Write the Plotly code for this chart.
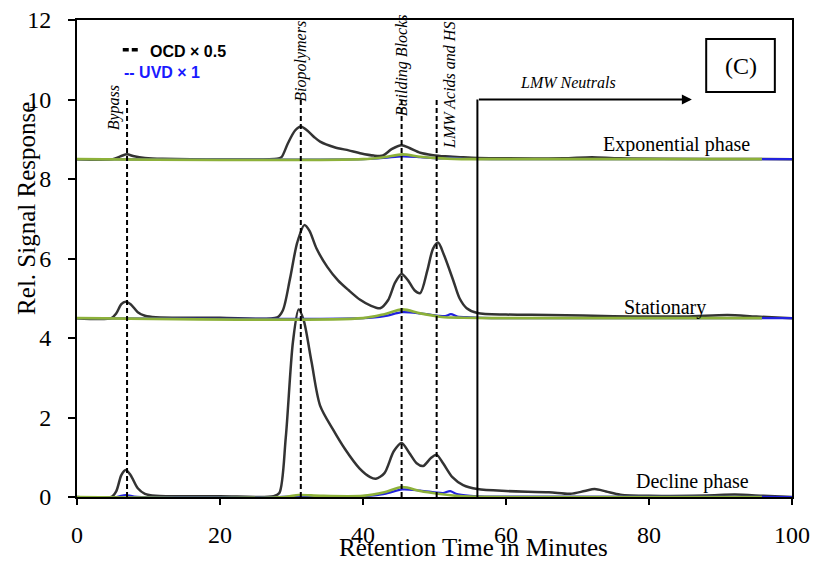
import plotly.graph_objects as go

# ---------------- data ----------------
# OCD signals (relative to each phase's baseline), x in minutes
ocd_decline_x = [0, 4.8, 5.5, 6.2, 6.8, 7.5, 8.5, 9.5, 11, 20, 27.5, 28.3, 29.2, 30.2, 31.0, 31.7, 32.8, 34.0, 35.8, 37.5, 39.5, 41.0, 41.8, 43.0, 44.3, 45.4, 46.5, 47.5, 48.4, 49.5, 50.3, 51.2, 52.5, 54.0, 56, 60, 66, 69, 71, 72.4, 74, 76, 80, 88, 92, 96, 100]
ocd_decline_y = [0, 0, 0.15, 0.55, 0.68, 0.55, 0.22, 0.08, 0.03, 0.02, 0.02, 0.1, 1.5, 3.9, 4.72, 4.45, 3.4, 2.3, 1.7, 1.2, 0.72, 0.5, 0.46, 0.6, 1.15, 1.36, 1.1, 0.85, 0.78, 0.98, 1.06, 0.85, 0.5, 0.3, 0.2, 0.15, 0.12, 0.08, 0.15, 0.2, 0.14, 0.06, 0.03, 0.04, 0.06, 0.03, 0.0]

ocd_station_x = [0, 4.8, 5.5, 6.2, 6.8, 7.5, 8.5, 9.5, 11, 20, 28, 28.8, 29.8, 30.8, 31.8, 32.5, 33.5, 35.0, 36.5, 38, 39.6, 41, 42.4, 43.5, 44.5, 45.4, 46.3, 47.2, 48.0, 49.0, 49.8, 50.5, 51.3, 52.6, 53.5, 54.5, 56, 60, 66, 75, 85, 91, 95, 100]
ocd_station_y = [0, 0, 0.12, 0.35, 0.41, 0.35, 0.15, 0.06, 0.02, 0.01, 0.02, 0.2, 1.0, 1.9, 2.34, 2.2, 1.75, 1.29, 0.95, 0.7, 0.46, 0.32, 0.25, 0.45, 0.9, 1.11, 0.95, 0.7, 0.63, 1.2, 1.75, 1.9, 1.6, 0.96, 0.5, 0.25, 0.13, 0.09, 0.08, 0.05, 0.04, 0.08, 0.04, 0.0]

ocd_expo_x = [0, 5, 6.2, 7.0, 8.0, 9.5, 12, 28, 28.6, 29.5, 30.5, 31.3, 32.2, 33.2, 34.0, 36, 38, 39.6, 41.5, 42.8, 44, 45.4, 46.5, 48, 49.8, 51.5, 53.6, 56, 60, 68, 72, 76, 100]
ocd_expo_y = [0, 0, 0.08, 0.12, 0.07, 0.03, 0.01, 0.01, 0.05, 0.4, 0.72, 0.82, 0.72, 0.55, 0.44, 0.3, 0.22, 0.15, 0.09, 0.09, 0.25, 0.35, 0.28, 0.16, 0.1, 0.07, 0.05, 0.03, 0.02, 0.02, 0.05, 0.02, 0.0]

# UVD signals
uvd_decline_x = [0, 5.5, 6.8, 8, 28, 31, 35, 40, 43, 45.5, 48, 50, 51.2, 52.2, 53, 55, 58, 100]
uvd_decline_y = [0, 0, 0.05, 0.01, 0.0, 0.02, 0.01, 0.02, 0.08, 0.19, 0.16, 0.12, 0.1, 0.15, 0.08, 0.03, 0.01, 0.0]
uvd_station_x = [0, 40, 43, 45.5, 48, 50.5, 51.5, 52.3, 53.2, 55, 58, 100]
uvd_station_y = [0, 0.0, 0.05, 0.15, 0.12, 0.06, 0.05, 0.1, 0.04, 0.02, 0.0, 0.0]
uvd_expo_x = [0, 40, 43, 45.5, 48, 50.5, 52.3, 54, 58, 100]
uvd_expo_y = [0, 0.0, 0.03, 0.07, 0.05, 0.02, 0.03, 0.01, 0.0, 0.0]

# Third detector (green)
grn_decline_x = [0, 29, 31, 34, 40, 43, 45.5, 48, 50.5, 53, 55, 95.8]
grn_decline_y = [0, 0.0, 0.05, 0.03, 0.03, 0.12, 0.25, 0.15, 0.08, 0.03, 0.01, 0.0]
grn_station_x = [0, 40, 43, 45.5, 48, 51, 54, 58, 95.8]
grn_station_y = [0, 0.0, 0.1, 0.22, 0.12, 0.03, 0.01, 0.0, 0.0]
grn_expo_x = [0, 40, 43, 45.5, 48, 51, 55, 95.8]
grn_expo_y = [0, 0.0, 0.05, 0.12, 0.06, 0.02, 0.0, 0.0]

phase_offsets = {"Exponential phase": 8.5, "Stationary": 4.5, "Decline phase": 0.0}

fraction_names = ["Bypass", "Biopolymers", "Building Blocks", "LMW Acids and HS"]
fraction_times = [7.0, 31.3, 45.4, 50.3]
lmw_neutral_start = 56.0
lmw_neutral_end = 86.0
marker_top = 10.0

x_ticks = [0, 20, 40, 60, 80, 100]
y_ticks = [0, 2, 4, 6, 8, 10, 12]

OCD_COLOR = "#333333"
UVD_COLOR = "#2222dd"
GRN_COLOR = "#8db13a"
SERIF = "Liberation Serif"
SANS = "Liberation Sans"

fig = go.Figure()

groups = [
    (ocd_expo_x, ocd_expo_y, uvd_expo_x, uvd_expo_y, grn_expo_x, grn_expo_y, phase_offsets["Exponential phase"]),
    (ocd_station_x, ocd_station_y, uvd_station_x, uvd_station_y, grn_station_x, grn_station_y, phase_offsets["Stationary"]),
    (ocd_decline_x, ocd_decline_y, uvd_decline_x, uvd_decline_y, grn_decline_x, grn_decline_y, phase_offsets["Decline phase"]),
]

for ox, oy, ux, uy, gx, gy, off in groups:
    fig.add_trace(go.Scatter(x=ox, y=[v + off for v in oy], mode="lines",
                             line=dict(color=OCD_COLOR, width=2.5, shape="spline", smoothing=0.8),
                             showlegend=False, hoverinfo="skip"))
for ox, oy, ux, uy, gx, gy, off in groups:
    fig.add_trace(go.Scatter(x=ux, y=[v + off for v in uy], mode="lines",
                             line=dict(color=UVD_COLOR, width=2.2, shape="spline", smoothing=0.8),
                             showlegend=False, hoverinfo="skip"))
for ox, oy, ux, uy, gx, gy, off in groups:
    fig.add_trace(go.Scatter(x=gx, y=[v + off for v in gy], mode="lines",
                             line=dict(color=GRN_COLOR, width=2.6, shape="spline", smoothing=0.8),
                             showlegend=False, hoverinfo="skip"))

# dashed fraction markers
for t in fraction_times:
    fig.add_shape(type="line", x0=t, x1=t, y0=0, y1=marker_top, xref="x", yref="y",
                  line=dict(color="black", width=2, dash="5px,3px"))

# fraction labels (vertical italic)
label_pos = {
    "Bypass": (5.1, 9.79),
    "Biopolymers": (31.3, 10.97),
    "Building Blocks": (45.5, 10.87),
    "LMW Acids and HS": (52.0, 10.36),
}
for name in fraction_names:
    lx, ly = label_pos[name]
    fig.add_annotation(x=lx, y=ly, xref="x", yref="y", text="<i>%s</i>" % name, textangle=-90,
                       xanchor="center", yanchor="middle",
                       showarrow=False, font=dict(family=SERIF, size=16, color="black"))

# LMW neutrals bracket
fig.add_shape(type="line", x0=lmw_neutral_start, x1=lmw_neutral_start, y0=0, y1=marker_top,
              xref="x", yref="y", line=dict(color="black", width=2))
fig.add_annotation(x=lmw_neutral_end, y=marker_top, ax=lmw_neutral_start, ay=marker_top,
                   xref="x", yref="y", axref="x", ayref="y", text="", showarrow=True,
                   arrowhead=2, arrowsize=1, arrowwidth=2, arrowcolor="black")
fig.add_annotation(x=68.7, y=10.44, xref="x", yref="y", text="<i>LMW Neutrals</i>", showarrow=False,
                   xanchor="center", yanchor="middle",
                   font=dict(family=SERIF, size=16, color="black"))

# (C) box
fig.add_shape(type="rect", x0=88.0, x1=97.6, y0=10.19, y1=11.52, xref="x", yref="y",
              line=dict(color="black", width=2), fillcolor="white")
fig.add_annotation(x=92.8, y=10.84, xref="x", yref="y", text="(C)", showarrow=False,
                   xanchor="center", yanchor="middle",
                   font=dict(family=SERIF, size=24, color="black"))

# phase labels
phase_label_pos = {"Exponential phase": (83.9, 8.86), "Stationary": (82.2, 4.77), "Decline phase": (86.1, 0.4)}
for name, (px, py) in phase_label_pos.items():
    fig.add_annotation(x=px, y=py, xref="x", yref="y", text=name, showarrow=False,
                       xanchor="center", yanchor="middle",
                       font=dict(family=SERIF, size=20, color="black"))

# legend (drawn)
fig.add_shape(type="line", x0=6.4, x1=8.7, y0=11.25, y1=11.25, xref="x", yref="y",
              line=dict(color="black", width=3.5, dash="6px,3px"))
fig.add_annotation(x=9.9, y=11.2, xref="x", yref="y", text="<b>OCD × 0.5</b>", showarrow=False,
                   xanchor="left", yanchor="middle", font=dict(family=SANS, size=16, color="black"))
fig.add_annotation(x=6.3, y=10.67, xref="x", yref="y", text="<b>-- UVD × 1</b>", showarrow=False,
                   xanchor="left", yanchor="middle", font=dict(family=SANS, size=16, color="#1a1aff"))

# axis titles
fig.add_annotation(x=0.554, y=-0.105, xref="paper", yref="paper", text="Retention Time in Minutes",
                   xanchor="center", yanchor="middle",
                   showarrow=False, font=dict(family=SERIF, size=25, color="black"))
fig.add_annotation(x=-0.07, y=0.606, xref="paper", yref="paper", text="Rel. Signal Response",
                   xanchor="center", yanchor="middle",
                   textangle=-90, showarrow=False, font=dict(family=SERIF, size=25, color="black"))

fig.update_xaxes(range=[0, 100], tickvals=x_ticks, ticktext=[str(v) for v in x_ticks],
                 showgrid=False, zeroline=False, showline=True, linecolor="black", linewidth=2,
                 mirror=True, ticks="outside", ticklen=6, tickwidth=1.5, tickcolor="black",
                 ticklabelstandoff=9, automargin=False,
                 tickfont=dict(family=SERIF, size=24, color="black"))
fig.update_yaxes(range=[0, 12], tickvals=y_ticks, ticktext=[str(v) for v in y_ticks],
                 showgrid=False, zeroline=False, showline=True, linecolor="black", linewidth=2,
                 mirror=True, ticks="outside", ticklen=7, tickwidth=1.5, tickcolor="black",
                 ticklabelstandoff=12, automargin=False,
                 tickfont=dict(family=SERIF, size=24, color="black"))

fig.update_layout(width=817, height=561, margin=dict(l=77, r=25, t=20, b=64),
                  plot_bgcolor="white", paper_bgcolor="white", showlegend=False)

fig.write_html("out.html")
